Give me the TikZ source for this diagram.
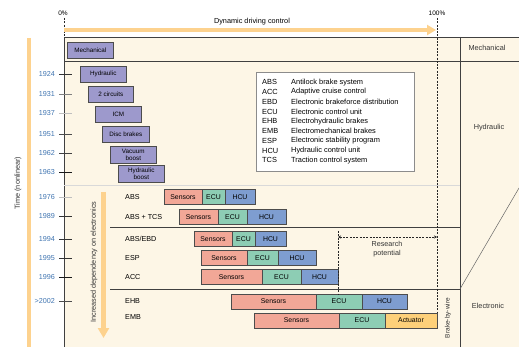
\documentclass[tikz,border=0pt]{standalone}
\usepackage{fontspec}
\setmainfont{Liberation Sans}
\usetikzlibrary{positioning,arrows.meta,shadows}
\definecolor{cream}{HTML}{FDF6E6}
\definecolor{lavender}{HTML}{9D99CC}
\definecolor{salmon}{HTML}{F2A797}
\definecolor{mint}{HTML}{8DCDB4}
\definecolor{steel}{HTML}{7E9DD0}
\definecolor{amber}{HTML}{FDD07A}
\definecolor{peach}{HTML}{FDD28E}
\definecolor{yearblue}{HTML}{3F74B0}

\begin{document}
\begin{tikzpicture}[x=1pt,y=-1pt,
    frame/.style={draw=black!75, line width=0.6pt},
    oldbox/.style={draw=black!70, line width=0.6pt, fill=lavender, minimum width=46,
      minimum height=16, inner sep=0pt, anchor=north west, align=center,
      font=\fontsize{6.3}{6.3}\selectfont},
    part/.style={draw=black!70, line width=0.6pt, minimum height=15, inner sep=0pt,
      outer sep=0pt, font=\fontsize{6.9}{7}\selectfont},
    sens/.style={part, fill=salmon},
    ecu/.style={part, fill=mint},
    hcu/.style={part, fill=steel},
    act/.style={part, fill=amber},
    rowlab/.style={anchor=west, inner sep=0pt, font=\fontsize{7.2}{8}\selectfont},
    yearlab/.style={anchor=east, inner sep=0pt, text=yearblue, font=\fontsize{7.2}{8}\selectfont},
    sidelab/.style={inner sep=0pt, text=black!80, font=\fontsize{7.3}{8}\selectfont},
    keytext/.style={anchor=west, inner sep=0pt, font=\fontsize{7.4}{8}\selectfont},
    guide/.style={black!85, line width=0.6pt, dash pattern=on 2pt off 1.3pt},
    band/.style={peach, line width=4pt}]

\useasboundingbox (0,0) rectangle (519,347);
\fill[cream] (64,37) rectangle (519,347);

% frame of the panel
\coordinate (tl) at (64,37);
\coordinate (tr) at (519,37);
\coordinate (bl) at (64,347);
\coordinate (col) at (460,37);
\coordinate (colb) at (460,347);
\draw[frame] (bl) -- (tl) -- (tr);
\draw[frame] (col) -- (colb);
\draw[frame] (64,61) -- (519,61);
\draw[black!15, line width=0.6pt] (64,185) -- (460,185);
\draw[frame] (110,227) -- (460,227);
\draw[frame] (110,289) -- (460,289);
\coordinate (diagA) at (460,289);
\coordinate (diagB) at (519,188);
\draw[black!60, line width=0.5pt] (diagA) -- (diagB);

% percentage scale
\node[inner sep=0pt, font=\fontsize{6.5}{7}\selectfont] (zero) at (63,13) {0\%};
\node[inner sep=0pt, font=\fontsize{6.5}{7}\selectfont] (full) at (437,13) {100\%};
\draw[guide] (64,18) -- (tl);
\draw[guide] (437,18) -- (437,327);
\node[inner sep=0pt, font=\fontsize{7.3}{8}\selectfont] (ddc) at (252,22) {Dynamic driving control};
\coordinate (arrA) at (64,30);
\coordinate (arrB) at (436,30);
\draw[band, -{Triangle[length=9pt,width=10pt]}] (arrA) -- (arrB);

% time axis
\coordinate (timeA) at (29,38);
\coordinate (timeB) at (29,347);
\draw[band] (timeA) -- (timeB);
\node[sidelab, rotate=90] (time) at (18,183) {Time (nonlinear)};

\foreach \yr/\yy/\tc [count=\i] in {1924/74/black!80, 1931/94/black!50, 1937/113/black!25,
    1951/134/black!70, 1962/153.5/black!75, 1963/172.5/black!90, 1976/197/black!25,
    1989/216.5/black!80, 1994/239/black!80, 1995/258/black!80, 1996/277/black!90,
    \textgreater2002/301/black!70} {
  \node[yearlab] (yr\i) at (55,\yy) {\yr};
  \draw[\tc, line width=0.7pt] ([xshift=4pt]yr\i.east) -- ++(13,0);
}

% mechanical and hydraulic era
\node[oldbox] (mech) at (67,42) {Mechanical};
\node[oldbox] (hydr) at (80,66) {Hydraulic};
\node[oldbox, minimum width=45] (circ) at (88,86) {2 circuits};
\node[oldbox] (icm) at (95,106) {ICM};
\node[oldbox, minimum width=47] (disc) at (102,126) {Disc brakes};
\node[oldbox, minimum height=17] (vac) at (110,146) {Vacuum\\boost};
\node[oldbox, minimum height=17] (hboost) at (118,165) {Hydraulic\\boost};

% legend
\node[draw=black!45, fill=white, line width=0.6pt, anchor=north west, minimum width=158,
  minimum height=99, drop shadow={shadow xshift=1pt, shadow yshift=-1pt, fill=black!25}]
  (key) at (256,72) {};
\foreach \ab/\txt [count=\i] in {ABS/Antilock brake system, ACC/Adaptive cruise control,
    EBD/Electronic brakeforce distribution, ECU/Electronic control unit,
    EHB/Electrohydraulic brakes, EMB/Electromechanical brakes,
    ESP/Electronic stability program, HCU/Hydraulic control unit,
    TCS/Traction control system} {
  \node[keytext] (ab\i) at (262,{72.5+9.75*\i}) {\ab};
  \node[keytext] (tx\i) at (291,{72.5+9.75*\i}) {\txt};
}

% electronics era
\coordinate (depA) at (103.5,192);
\coordinate (depB) at (103.5,338);
\draw[peach, line width=4.5pt, -{Triangle[length=10pt,width=11pt]}] (depA) -- (depB);
\node[sidelab, rotate=90] (dep) at (94,262) {Increased dependency on electronics};

\node[rowlab] (labABS) at (125,197) {ABS};
\node[sens, minimum width=38, anchor=west] (absS) at (164,197) {Sensors};
\node[ecu, minimum width=23, right=0pt of absS] (absE) {ECU};
\node[hcu, minimum width=30, right=0pt of absE] (absH) {HCU};

\node[rowlab] (labTCS) at (125,217) {ABS + TCS};
\node[sens, minimum width=39, anchor=west] (tcsS) at (179,217) {Sensors};
\node[ecu, minimum width=29, right=0pt of tcsS] (tcsE) {ECU};
\node[hcu, minimum width=39, right=0pt of tcsE] (tcsH) {HCU};

\node[rowlab] (labEBD) at (125,239) {ABS/EBD};
\node[sens, minimum width=38, anchor=west] (ebdS) at (194,239) {Sensors};
\node[ecu, minimum width=23, right=0pt of ebdS] (ebdE) {ECU};
\node[hcu, minimum width=31, right=0pt of ebdE] (ebdH) {HCU};

\node[rowlab] (labESP) at (125,258) {ESP};
\node[sens, minimum width=46, anchor=west] (espS) at (201,258) {Sensors};
\node[ecu, minimum width=31, right=0pt of espS] (espE) {ECU};
\node[hcu, minimum width=38, right=0pt of espE] (espH) {HCU};

\node[rowlab] (labACC) at (125,277) {ACC};
\node[sens, minimum width=61, anchor=west] (accS) at (201,277) {Sensors};
\node[ecu, minimum width=39, right=0pt of accS] (accE) {ECU};
\node[hcu, minimum width=37, right=0pt of accE] (accH) {HCU};

\node[rowlab] (labEHB) at (125,301) {EHB};
\node[sens, minimum width=85, anchor=west] (ehbS) at (231,301.5) {Sensors};
\node[ecu, minimum width=46, right=0pt of ehbS] (ehbE) {ECU};
\node[hcu, minimum width=45, right=0pt of ehbE] (ehbH) {HCU};

\node[rowlab] (labEMB) at (125,317) {EMB};
\node[sens, minimum width=85, anchor=west] (embS) at (254,320.5) {Sensors};
\node[ecu, minimum width=46, right=0pt of embS] (embE) {ECU};
\node[act, minimum width=52, right=0pt of embE] (embA) {Actuator};

% research potential
\coordinate (rp) at (338,231);
\coordinate (rpL) at (338,237);
\coordinate (rpR) at (437,237);
\draw[guide] (rp) -- (rp |- ehbE.north);
\draw[guide, {Stealth[length=3pt,width=3pt]}-{Stealth[length=3pt,width=3pt]}] (rpL) -- (rpR);
\node[inner sep=0pt, align=center, text=black!80, font=\fontsize{7.2}{9}\selectfont]
  (research) at (387,249.5) {Research\\potential};

% right column
\node[sidelab] (mechcol) at (487,48) {Mechanical};
\node[sidelab] (hydcol) at (489,128) {Hydraulic};
\node[sidelab] (eleccol) at (488,306) {Electronic};
\node[sidelab, rotate=90, font=\fontsize{6.5}{7}\selectfont] (bbw) at (448,318) {Brake-by-wire};

\end{tikzpicture}
\end{document}
